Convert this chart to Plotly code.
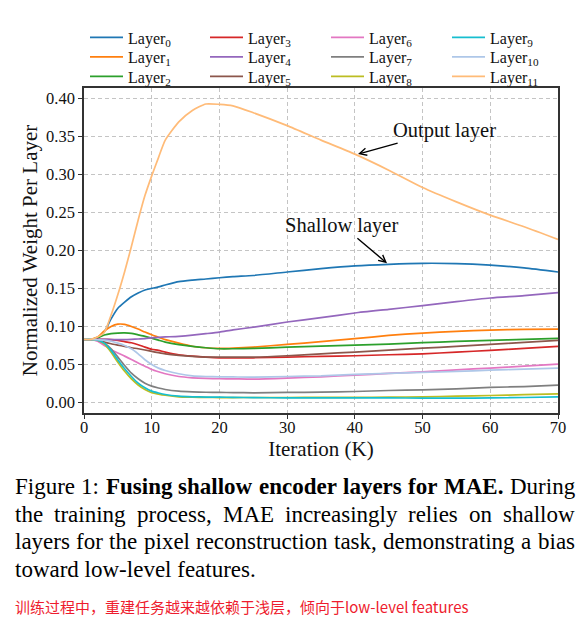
import plotly.graph_objects as go

# ---------------- data ----------------
iterations = [0, 1, 2, 3, 4, 5, 6, 7, 8, 9, 10, 11, 12, 14, 16, 18, 20, 22, 25, 30, 35, 40, 45, 50, 55, 60, 65, 70]

layer0 = [0.083, 0.083, 0.085, 0.093, 0.110, 0.124, 0.132, 0.139, 0.144, 0.148, 0.150, 0.152, 0.1545, 0.159, 0.161, 0.1624, 0.164, 0.1655, 0.167, 0.1716, 0.176, 0.1796, 0.1817, 0.183, 0.1826, 0.1805, 0.177, 0.1716]
layer1 = [0.083, 0.083, 0.086, 0.094, 0.100, 0.103, 0.1027, 0.100, 0.0966, 0.0926, 0.089, 0.0858, 0.0826, 0.078, 0.074, 0.072, 0.0711, 0.0715, 0.0728, 0.0764, 0.080, 0.0839, 0.0882, 0.0913, 0.0935, 0.0952, 0.0961, 0.0966]
layer2 = [0.083, 0.083, 0.085, 0.0887, 0.0905, 0.0913, 0.0915, 0.091, 0.089, 0.087, 0.0847, 0.082, 0.0794, 0.076, 0.0737, 0.072, 0.0707, 0.0707, 0.0711, 0.0728, 0.0742, 0.0755, 0.0768, 0.0786, 0.0803, 0.0816, 0.083, 0.0843]
layer3 = [0.083, 0.083, 0.083, 0.083, 0.0828, 0.0817, 0.080, 0.0786, 0.076, 0.0728, 0.070, 0.0685, 0.0663, 0.0628, 0.061, 0.0597, 0.0588, 0.0588, 0.0588, 0.0597, 0.0606, 0.0615, 0.0628, 0.064, 0.0663, 0.0685, 0.0711, 0.0737]
layer4 = [0.083, 0.083, 0.083, 0.083, 0.0828, 0.0826, 0.0826, 0.083, 0.0835, 0.084, 0.085, 0.0857, 0.0862, 0.087, 0.0885, 0.0905, 0.0926, 0.0955, 0.099, 0.1058, 0.1115, 0.1177, 0.1225, 0.1273, 0.1326, 0.1374, 0.1405, 0.1445]
layer5 = [0.083, 0.083, 0.082, 0.0794, 0.0773, 0.0755, 0.0737, 0.072, 0.0707, 0.069, 0.0672, 0.0655, 0.064, 0.062, 0.0606, 0.0597, 0.0597, 0.0597, 0.0597, 0.0615, 0.064, 0.0663, 0.0689, 0.0715, 0.0737, 0.0764, 0.079, 0.0817]
layer6 = [0.083, 0.083, 0.0807, 0.075, 0.0694, 0.065, 0.061, 0.0566, 0.0518, 0.0478, 0.0435, 0.0405, 0.0378, 0.0342, 0.0325, 0.0316, 0.0312, 0.0311, 0.0307, 0.032, 0.0338, 0.036, 0.0382, 0.0404, 0.043, 0.0452, 0.0478, 0.0505]
layer7 = [0.083, 0.083, 0.082, 0.078, 0.0707, 0.0597, 0.0487, 0.0386, 0.0312, 0.0254, 0.0215, 0.019, 0.0171, 0.0149, 0.014, 0.0135, 0.0132, 0.0131, 0.0127, 0.0132, 0.0136, 0.0145, 0.0158, 0.0167, 0.018, 0.0198, 0.021, 0.0228]
layer8 = [0.083, 0.083, 0.082, 0.077, 0.066, 0.053, 0.041, 0.031, 0.023, 0.017, 0.013, 0.011, 0.0095, 0.0075, 0.007, 0.0067, 0.0065, 0.0065, 0.0066, 0.0066, 0.0067, 0.0068, 0.007, 0.0075, 0.0083, 0.0092, 0.0103, 0.0114]
layer9 = [0.083, 0.083, 0.082, 0.078, 0.0685, 0.056, 0.0444, 0.0342, 0.0254, 0.0193, 0.0149, 0.0125, 0.0105, 0.0083, 0.0075, 0.0072, 0.007, 0.0068, 0.0064, 0.0062, 0.0062, 0.0061, 0.006, 0.0058, 0.0058, 0.006, 0.0066, 0.0075]
layer10 = [0.083, 0.083, 0.0825, 0.082, 0.0805, 0.078, 0.075, 0.0707, 0.064, 0.0562, 0.050, 0.0452, 0.0421, 0.0378, 0.0351, 0.0342, 0.0338, 0.0336, 0.0333, 0.0342, 0.035, 0.0369, 0.0382, 0.0395, 0.0408, 0.0426, 0.0439, 0.0452]
layer11 = [0.083, 0.083, 0.086, 0.092, 0.115, 0.142, 0.172, 0.205, 0.240, 0.272, 0.298, 0.322, 0.345, 0.369, 0.384, 0.3925, 0.392, 0.390, 0.381, 0.364, 0.345, 0.3266, 0.3055, 0.2827, 0.2638, 0.2463, 0.231, 0.2143]

series = [layer0, layer1, layer2, layer3, layer4, layer5, layer6, layer7, layer8, layer9, layer10, layer11]
layer_labels = ["Layer<sub>%d</sub>" % i for i in range(12)]
colors = ["#1f77b4", "#ff7f0e", "#2ca02c", "#d62728", "#9467bd", "#8c564b",
          "#e377c2", "#7f7f7f", "#bcbd22", "#17becf", "#aec7e8", "#ffbb78"]

x_ticks = [0, 10, 20, 30, 40, 50, 60, 70]
y_ticks = [0.00, 0.05, 0.10, 0.15, 0.20, 0.25, 0.30, 0.35, 0.40]

# ---------------- layout constants (window pixels) ----------------
OFF = 0   # body margin removed by post_script below
W, H = 579, 638
PLOT_L, PLOT_R, PLOT_T, PLOT_B = 84, 558, 88, 412.7
ML = PLOT_L - OFF
MT = PLOT_T - OFF
MR = W - (PLOT_R - OFF)
MB = H - (PLOT_B - OFF)
PW = W - ML - MR
PH = H - MT - MB
SERIF = "Liberation Serif, Times New Roman, serif"


def px_to_paper_x(px):
    return (px - OFF - ML) / PW


def px_to_paper_y(py):
    return 1 - (py - OFF - MT) / PH


fig = go.Figure()
legend_ids = ["legend"] + ["legend%d" % k for k in range(2, 13)]
for i, (vals, name, col) in enumerate(zip(series, layer_labels, colors)):
    fig.add_trace(go.Scatter(
        x=iterations, y=vals, mode="lines", name=name,
        line=dict(color=col, width=1.7, shape="spline", smoothing=0.6),
        legend=legend_ids[i], showlegend=True,
    ))

legend_cols_px = [85, 205, 326, 447]     # legend left edge
legend_row_center_px = [38.5, 58, 77.5]
legend_layouts = {}
for i, lid in enumerate(legend_ids):
    col, row = i // 3, i % 3
    top_fig = legend_row_center_px[row] - OFF - 18
    legend_layouts[lid] = dict(
        orientation="v", xanchor="left", yanchor="top",
        x=px_to_paper_x(legend_cols_px[col]),
        y=1 - (top_fig - MT) / PH,
        bgcolor="rgba(0,0,0,0)", borderwidth=0,
        font=dict(family=SERIF, size=16, color="#111"),
        tracegroupgap=0, itemwidth=33,
    )

annotations = []
annotations.append(dict(x=40.47, y=0.3266, ax=53.2, ay=0.3582, xref="x", yref="y", axref="x", ayref="y",
                        text="Output layer", showarrow=True, arrowhead=5, arrowsize=1, arrowwidth=1.4,
                        arrowcolor="#000", font=dict(family=SERIF, size=20.5, color="#111"), standoff=0))
annotations.append(dict(x=44.75, y=0.1831, ax=38.1, ay=0.2331, xref="x", yref="y", axref="x", ayref="y",
                        text="Shallow layer", showarrow=True, arrowhead=5, arrowsize=1, arrowwidth=1.4,
                        arrowcolor="#000", font=dict(family=SERIF, size=20.5, color="#111"), standoff=0))

# ---------------- caption (justified text, Times metrics) ----------------
REG = {' ': 250, ',': 250, '.': 250, ':': 278, '-': 333, '1': 500,
       'A': 722, 'D': 722, 'E': 611, 'F': 556, 'M': 889,
       'a': 444, 'b': 500, 'c': 444, 'd': 500, 'e': 444, 'f': 333, 'g': 500, 'h': 500, 'i': 278,
       'j': 278, 'k': 500, 'l': 278, 'm': 778, 'n': 500, 'o': 500, 'p': 500, 'q': 500, 'r': 333,
       's': 389, 't': 278, 'u': 500, 'v': 500, 'w': 722, 'x': 500, 'y': 500, 'z': 444}
BOLD = {' ': 250, '.': 250, 'A': 722, 'E': 667, 'F': 611, 'M': 944,
        'a': 500, 'c': 444, 'd': 556, 'e': 444, 'f': 333, 'g': 500, 'h': 556, 'i': 278, 'l': 278,
        'n': 556, 'o': 500, 'r': 444, 's': 389, 'u': 556, 'w': 722, 'y': 500}
CAP_SIZE = 23


def word_width(w, bold):
    tab = BOLD if bold else REG
    return sum(tab.get(ch, 500) for ch in w) * CAP_SIZE / 1000.0


caption_lines = [
    [("Figure", False), ("1:", False), ("Fusing", True), ("shallow", True), ("encoder", True),
     ("layers", True), ("for", True), ("MAE.", True), ("During", False)],
    [("the", False), ("training", False), ("process,", False), ("MAE", False), ("increasingly", False),
     ("relies", False), ("on", False), ("shallow", False)],
    [("layers", False), ("for", False), ("the", False), ("pixel", False), ("reconstruction", False),
     ("task,", False), ("demonstrating", False), ("a", False), ("bias", False)],
]
last_line = "toward low-level features."
line_y_px = [486, 514, 541, 569]
left_px, right_px = 15, 575

for words, ly in zip(caption_lines, line_y_px):
    widths = [word_width(w, b) for w, b in words]
    gap = (right_px - left_px - sum(widths)) / (len(words) - 1)
    xcur = left_px
    for (w, b), wd in zip(words, widths):
        annotations.append(dict(x=px_to_paper_x(xcur), y=px_to_paper_y(ly), xref="paper", yref="paper",
                                text=("<b>%s</b>" % w) if b else w, showarrow=False,
                                xanchor="left", yanchor="middle", borderpad=0, borderwidth=0,
                                font=dict(family=SERIF, size=CAP_SIZE, color="#000")))
        xcur += wd + gap

annotations.append(dict(x=px_to_paper_x(left_px), y=px_to_paper_y(line_y_px[3]), xref="paper", yref="paper",
                        text=last_line, showarrow=False, xanchor="left", yanchor="middle",
                        borderpad=0, borderwidth=0,
                        font=dict(family=SERIF, size=CAP_SIZE, color="#000")))

annotations.append(dict(x=px_to_paper_x(left_px), y=px_to_paper_y(606), xref="paper", yref="paper",
                        text="训练过程中，重建任务越来越依赖于浅层，倾向于low-level features",
                        showarrow=False, xanchor="left", yanchor="middle", borderpad=0, borderwidth=0,
                        font=dict(family="Noto Sans CJK SC", size=15, color="#ee1c2e")))

axis_common = dict(showline=True, linecolor="#333", linewidth=1.5, mirror=True,
                   ticks="outside", ticklen=4, tickwidth=1.2, tickcolor="#333",
                   showgrid=True, gridcolor="#c4c4c4", gridwidth=1, griddash="4px,3px",
                   zeroline=False, tickfont=dict(family=SERIF, size=16.5, color="#111"))

fig.update_layout(
    width=W, height=H,
    margin=dict(l=ML, r=MR, t=MT, b=MB, pad=0),
    paper_bgcolor="white", plot_bgcolor="white",
    xaxis=dict(range=[0, 70], tickvals=x_ticks, ticktext=[str(v) for v in x_ticks],
               ticklabelstandoff=-6,
               title=dict(text="Iteration (K)", font=dict(family=SERIF, size=21, color="#111"), standoff=3),
               **axis_common),
    yaxis=dict(range=[-0.0138, 0.4135], tickvals=y_ticks, ticktext=["%.2f" % v for v in y_ticks],
               title=dict(text="Normalized Weight Per Layer", font=dict(family=SERIF, size=21, color="#111"), standoff=3),
               **axis_common),
    annotations=annotations,
    **legend_layouts,
)

fig.write_html("out.html",
               config={"displayModeBar": False},
               post_script="document.body.style.margin='0';"
                           "document.body.style.overflow='hidden';"
                           "document.documentElement.style.overflow='hidden';")
